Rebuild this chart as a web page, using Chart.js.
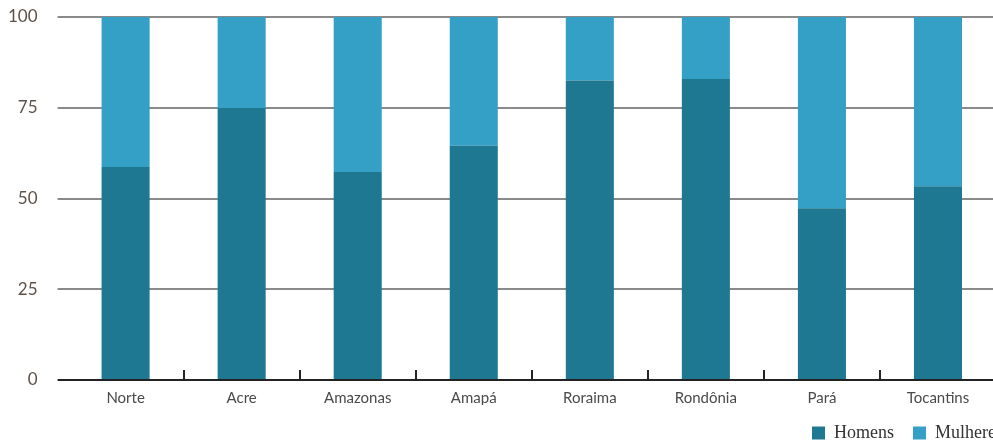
<!DOCTYPE html>
<html>
<head>
<meta charset="utf-8">
<script src="https://cdn.jsdelivr.net/npm/chart.js@4"></script>
<style>
  html, body { margin: 0; padding: 0; background: #fff; overflow: hidden; }
  #wrap { position: relative; width: 1005px; height: 441px; }
</style>
</head>
<body>
<div id="wrap"><canvas id="chart"></canvas></div>
<script>
// Share of men / women by state, Região Norte (%)
const categories = ['Norte', 'Acre', 'Amazonas', 'Amapá', 'Roraima', 'Rondônia', 'Pará', 'Tocantins']
const homens = [58.7, 74.9, 57.3, 64.5, 82.5, 82.9, 47.3, 53.4]
const mulheres = [41.3, 25.1, 42.7, 35.5, 17.5, 17.1, 52.7, 46.6]
const yTicks = [0, 25, 50, 75, 100]

const COLOR_HOMENS = '#1f7892'
const COLOR_MULHERES = '#35a0c6'

// short tick marks pointing up from the baseline, between categories
const innerTicks = {
  id: 'innerTicks',
  afterDatasetsDraw(chart) {
    const { ctx, chartArea, scales: { x } } = chart
    ctx.save()
    ctx.strokeStyle = '#222'
    ctx.lineWidth = 2
    for (let i = 1; i < categories.length; i++) {
      const px = Math.round((x.getPixelForValue(i - 1) + x.getPixelForValue(i)) / 2)
      ctx.beginPath()
      ctx.moveTo(px, chartArea.bottom - 10)
      ctx.lineTo(px, chartArea.bottom)
      ctx.stroke()
    }
    ctx.restore()
  },
}

// legend sits further right in the original, running off the edge
const nudgeLegend = {
  id: 'nudgeLegend',
  afterLayout(chart) {
    chart.legend.left += 26
    chart.legend.right += 26
  },
}

new Chart(document.getElementById('chart'), {
  type: 'bar',
  data: {
    labels: categories,
    datasets: [
      { label: 'Homens', data: homens, backgroundColor: COLOR_HOMENS },
      { label: 'Mulheres', data: mulheres, backgroundColor: COLOR_MULHERES },
    ],
  },
  options: {
    responsive: true,
    maintainAspectRatio: false,
    animation: false,
    layout: { padding: { top: 17, right: 9, left: -12, bottom: -11 } },
    datasets: { bar: { barPercentage: 0.414, categoryPercentage: 1 } },
    plugins: {
      tooltip: { enabled: false },
      legend: {
        position: 'bottom',
        align: 'end',
        labels: {
          boxWidth: 13,
          boxHeight: 13,
          padding: 19,
          color: '#333',
          font: { family: '"Liberation Serif", "DejaVu Serif", serif', size: 18 },
        },
      },
    },
    scales: {
      x: {
        stacked: true,
        grid: { display: false },
        border: { display: false },
        afterFit: (s) => { s.height = 25 },
        ticks: {
          color: '#4a4a4a',
          padding: 1,
          font: { family: 'Lato, "Open Sans", sans-serif', size: 15 },
        },
      },
      y: {
        stacked: true,
        min: 0,
        max: 100,
        afterBuildTicks: (axis) => { axis.ticks = yTicks.map(v => ({ value: v })) },
        afterFit: (axis) => { axis.paddingTop = 0; axis.paddingBottom = 0 },
        border: { display: false },
        grid: {
          drawTicks: true,
          tickLength: 10,
          lineWidth: 2,
          color: (c) => c.tick && c.tick.value === 0 ? '#222' : '#8a8a8a',
        },
        ticks: {
          color: '#5e5248',
          padding: 20,
          font: { family: 'Lato, "Open Sans", sans-serif', size: 17 },
        },
      },
    },
  },
  plugins: [innerTicks, nudgeLegend],
})
</script>
</body>
</html>
